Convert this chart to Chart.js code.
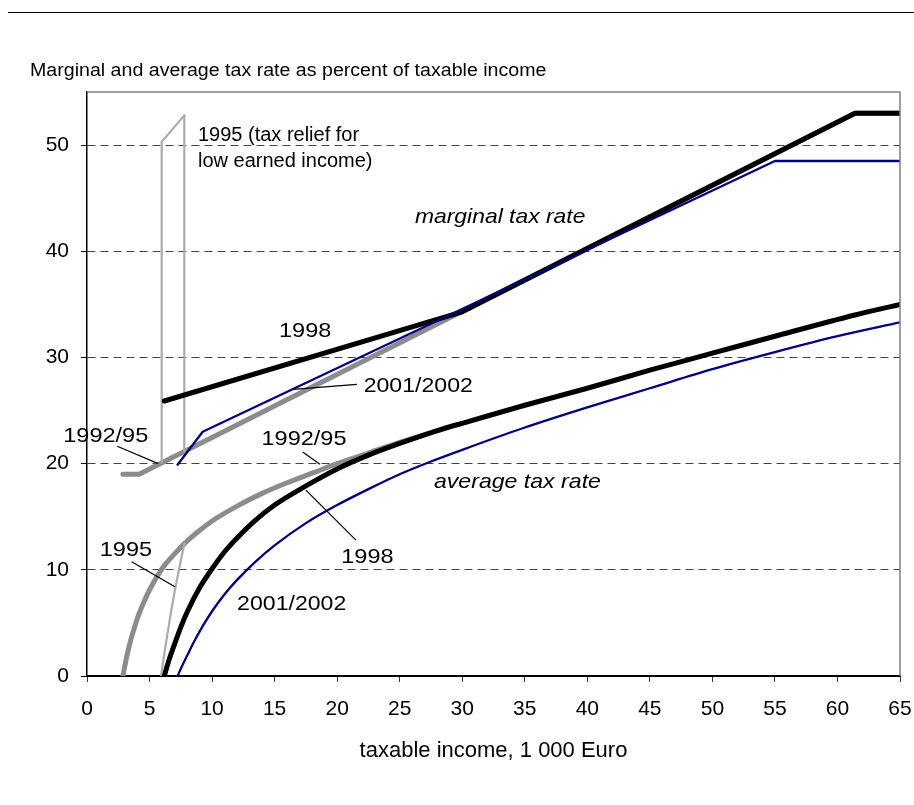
<!DOCTYPE html>
<html><head><meta charset="utf-8">
<script src="https://cdn.jsdelivr.net/npm/chart.js@4/dist/chart.umd.min.js"></script>
<style>html,body{margin:0;padding:0;background:#fff;} #wrap{width:914px;height:805px;position:relative;}</style>
</head><body><div id="wrap"><canvas id="c"></canvas></div>
<script>
// ---- data (taxable income in 1 000 Euro, rate in %) ----
const xTickLabels = [0,5,10,15,20,25,30,35,40,45,50,55,60,65];
const yTickLabels = [0,10,20,30,40,50];

const marg9295X = [2.87, 4.17, 61.4, 65];
const marg9295Y = [19.0, 19.0, 53.0, 53.0];
const marg1995X = [5.97, 5.97, 7.78, 7.78];
const marg1995Y = [20.1, 50.3, 52.8, 21.1];
const marg1998X = [6.18, 30.0, 61.4, 65];
const marg1998Y = [25.9, 34.3, 53.0, 53.0];
const marg2001X = [7.24, 9.25, 55.0, 65];
const marg2001Y = [19.9, 23.0, 48.5, 48.5];

const avg9295X = [2.87, 3.0, 3.25, 3.5, 3.8, 4.17, 4.6, 5, 6, 7, 8, 9, 10, 12, 14, 16, 18, 20, 22.5, 25, 27.5, 30];
const avg9295Y = [0, 0.8, 2.2, 3.4, 4.6, 5.9, 7.1, 8.1, 10.1, 11.5, 12.7, 13.7, 14.6, 16.0, 17.2, 18.2, 19.1, 20.0, 21.0, 22.0, 22.9, 23.8];
const avg1995X = [5.92, 6.3, 6.7, 7.1, 7.45, 7.8];
const avg1995Y = [0, 3.0, 5.9, 8.5, 10.6, 12.5];
const avg1998X = [6.18, 6.5, 7, 7.5, 8, 9, 10, 11, 12, 13.5, 15, 17.5, 20, 22.5, 25, 28.5, 30, 35, 40, 45, 50, 55, 61.4, 65];
const avg1998Y = [0, 1.3, 3.0, 4.6, 6.0, 8.3, 10.1, 11.7, 13.0, 14.7, 16.1, 17.9, 19.5, 20.8, 21.9, 23.3, 23.8, 25.5, 27.1, 28.8, 30.4, 32.0, 34.0, 35.0];
const avg2001X = [7.24, 7.6, 8, 8.5, 9.25, 10, 11, 12, 13.5, 15, 17.5, 20, 22.5, 25, 27.5, 30, 35, 40, 45, 50, 55, 60, 65];
const avg2001Y = [0, 0.95, 1.9, 3.1, 4.7, 6.1, 7.7, 9.05, 10.8, 12.3, 14.4, 16.1, 17.6, 19.0, 20.2, 21.3, 23.4, 25.3, 27.1, 28.9, 30.5, 32.0, 33.3];

// ---- annotations (text, anchor in data units) ----
const FONT = "'Liberation Sans', Arial, sans-serif";
const labels = [
  {t:'1995 (tax relief for', x:8.87, y:50.42, size:20, sx:1.0},
  {t:'low earned income)', x:8.87, y:47.91, size:20, sx:1.0},
  {t:'marginal tax rate', x:26.22, y:42.62, size:21, sx:1.09, italic:true},
  {t:'1998', x:15.35, y:31.92, size:21, sx:1.12},
  {t:'2001/2002', x:22.12, y:26.72, size:21, sx:1.1},
  {t:'1992/95', x:-1.9, y:22.04, size:21, sx:1.12},
  {t:'1992/95', x:13.95, y:21.73, size:21, sx:1.12},
  {t:'1998', x:20.33, y:10.60, size:21, sx:1.12},
  {t:'1995', x:1.02, y:11.29, size:21, sx:1.12},
  {t:'2001/2002', x:12.0, y:6.21, size:21, sx:1.1},
  {t:'average tax rate', x:27.74, y:17.75, size:21, sx:1.1, italic:true}
];
const leaders = [
  [[16.47,27.0],[21.58,27.47]],
  [[2.42,21.64],[5.70,20.0]],
  [[17.24,21.1],[18.63,19.94]],
  [[17.5,17.5],[21.5,12.8]],
  [[3.57,10.75],[7.03,8.4]]
];

const zip = (xs, ys) => xs.map((x, i) => ({x, y: ys[i]}));

function ds(label, xs, ys, color, width, order, smooth) {
  return {
    label, data: zip(xs, ys), borderColor: color, backgroundColor: color,
    borderWidth: width, pointRadius: 0, pointHoverRadius: 0, fill: false,
    tension: 0, cubicInterpolationMode: smooth ? 'monotone' : 'default',
    borderCapStyle: 'round', borderJoinStyle: 'round', order,
    clip: {left: 6, right: 0, top: 6, bottom: 0}
  };
}

const GRAY = '#8c8c8c', LGRAY = '#ababab', BLUE = '#000080', BLACK = '#000000';

const decor = {
  id: 'decor',
  beforeDraw(chart) {
    const ctx = chart.ctx;
    ctx.save();
    ctx.fillStyle = '#fff';
    ctx.fillRect(0, 0, chart.width, chart.height);
    ctx.strokeStyle = '#000';
    ctx.lineWidth = 1;
    ctx.beginPath(); ctx.moveTo(8, 12.5); ctx.lineTo(914, 12.5); ctx.stroke();
    ctx.fillStyle = '#000';
    ctx.font = `17.5px ${FONT}`;
    ctx.textBaseline = 'alphabetic';
    ctx.translate(30, 76);
    ctx.scale(1.12, 1);
    ctx.fillText('Marginal and average tax rate as percent of taxable income', 0, 0);
    ctx.restore();
  },
  afterDatasetsDraw(chart) {
    const ctx = chart.ctx, xs = chart.scales.x, ys = chart.scales.y, a = chart.chartArea;
    ctx.save();
    // frame (top and right)
    ctx.strokeStyle = '#808080';
    ctx.lineWidth = 1.5;
    ctx.beginPath();
    ctx.moveTo(a.left, a.top); ctx.lineTo(a.right, a.top); ctx.lineTo(a.right, a.bottom);
    ctx.stroke();
    // leader lines
    ctx.strokeStyle = '#000';
    ctx.lineWidth = 1.2;
    leaders.forEach(([p, q]) => {
      ctx.beginPath();
      ctx.moveTo(xs.getPixelForValue(p[0]), ys.getPixelForValue(p[1]));
      ctx.lineTo(xs.getPixelForValue(q[0]), ys.getPixelForValue(q[1]));
      ctx.stroke();
    });
    // labels
    ctx.fillStyle = '#000';
    ctx.textBaseline = 'alphabetic';
    ctx.textAlign = 'left';
    labels.forEach(l => {
      ctx.save();
      ctx.font = `${l.italic ? 'italic ' : ''}${l.size}px ${FONT}`;
      ctx.translate(xs.getPixelForValue(l.x), ys.getPixelForValue(l.y));
      ctx.scale(l.sx, 1);
      ctx.fillText(l.t, 0, 0);
      ctx.restore();
    });
    ctx.restore();
  }
};

new Chart(document.getElementById('c'), {
  type: 'line',
  data: {
    datasets: [
      ds('2001/2002 marginal', marg2001X, marg2001Y, BLUE, 2.3, 1, false),
      ds('2001/2002 average', avg2001X, avg2001Y, BLUE, 2.3, 1, true),
      ds('1998 marginal', marg1998X, marg1998Y, BLACK, 5, 2, false),
      ds('1998 average', avg1998X, avg1998Y, BLACK, 5, 2, true),
      ds('1995 marginal (tax relief)', marg1995X, marg1995Y, LGRAY, 2.2, 3, false),
      ds('1995 average (tax relief)', avg1995X, avg1995Y, LGRAY, 2.2, 3, true),
      ds('1992/95 marginal', marg9295X, marg9295Y, GRAY, 5, 4, false),
      ds('1992/95 average', avg9295X, avg9295Y, GRAY, 5, 4, true)
    ]
  },
  options: {
    responsive: true, maintainAspectRatio: false, animation: false, devicePixelRatio: 1,
    events: [],
    layout: {padding: {left: 0, right: 14, top: 92, bottom: 0}},
    plugins: {legend: {display: false}, tooltip: {enabled: false}, title: {display: false}},
    scales: {
      x: {
        type: 'linear', min: 0, max: 65,
        afterBuildTicks: s => { s.ticks = xTickLabels.map(v => ({value: v})); },
        afterFit: s => { s.height = 129; s.paddingLeft = 0; s.paddingRight = 0; },
        ticks: {stepSize: 5, autoSkip: false, maxRotation: 0, padding: 15, color: '#000',
                font: {family: FONT, size: 21}},
        grid: {drawOnChartArea: false, drawTicks: true, tickLength: 6, tickColor: '#333', tickWidth: 1},
        border: {display: true, color: '#000', width: 2},
        title: {display: true, text: 'taxable income, 1 000 Euro', color: '#000',
                font: {family: FONT, size: 22}, padding: {top: 0, bottom: 41}}
      },
      y: {
        type: 'linear', min: 0, max: 55,
        afterBuildTicks: s => { s.ticks = yTickLabels.map(v => ({value: v})); },
        afterFit: s => { s.width = 87; s.paddingTop = 0; s.paddingBottom = 0; },
        ticks: {stepSize: 10, padding: 12, color: '#000', font: {family: FONT, size: 21}},
        grid: {
          color: c => (c.tick && c.tick.value === 0) ? 'rgba(0,0,0,0)' : '#444',
          lineWidth: 1, drawTicks: true, tickLength: 6, tickColor: '#000', tickWidth: 1, tickBorderDash: []
        },
        border: {display: true, color: '#000', width: 1.5, dash: [8, 5]}
      }
    }
  },
  plugins: [decor]
});
</script>
</body></html>
